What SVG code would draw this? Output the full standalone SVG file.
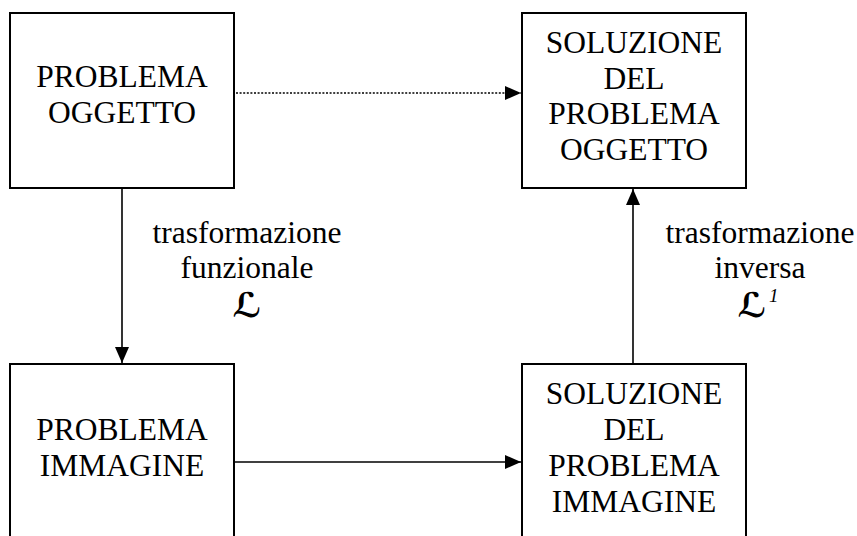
<svg xmlns="http://www.w3.org/2000/svg" width="857" height="536" viewBox="0 0 857 536">
<style>
.box{fill:#fff;stroke:#000;stroke-width:2}
.t{font-family:"Liberation Serif","Times New Roman",serif;font-size:31.5px;fill:#000;text-anchor:middle}
.c{stroke:#000;stroke-width:1.6;fill:none}
.d{stroke:#000;stroke-width:1.6;fill:none;stroke-dasharray:2 1.6}
.s{font-family:"DejaVu Serif","DejaVu Sans",serif;font-style:italic;font-weight:bold;font-size:34px;fill:#000;text-anchor:middle}
.sup{font-family:"Liberation Serif",serif;font-style:italic;font-size:19px;fill:#000}
</style>
<defs>
<marker id="ah" markerUnits="userSpaceOnUse" markerWidth="17" markerHeight="14" refX="16" refY="7" orient="auto">
<path d="M0,0 L16,7 L0,14 Z" fill="#000"/>
</marker>
</defs>
<g id="connectors">
<line class="c" x1="122" y1="189" x2="122" y2="363" marker-end="url(#ah)"/>
<line class="d" x1="236" y1="93" x2="521" y2="93" marker-end="url(#ah)"/>
<line class="c" x1="234" y1="462" x2="521" y2="462" marker-end="url(#ah)"/>
<line class="c" x1="633" y1="363" x2="633" y2="189" marker-end="url(#ah)"/>
</g>
<g id="problema-oggetto">
<rect class="box" x="10" y="13" width="224" height="175"/>
<text class="t" x="122" y="87">PROBLEMA</text>
<text class="t" x="122" y="123">OGGETTO</text>
</g>
<g id="soluzione-oggetto">
<rect class="box" x="522" y="13" width="224" height="175"/>
<text class="t" x="634" y="53">SOLUZIONE</text>
<text class="t" x="634" y="89">DEL</text>
<text class="t" x="634" y="124">PROBLEMA</text>
<text class="t" x="634" y="160">OGGETTO</text>
</g>
<g id="problema-immagine">
<rect class="box" x="10" y="364" width="224" height="185"/>
<text class="t" x="122" y="440">PROBLEMA</text>
<text class="t" x="122" y="476">IMMAGINE</text>
</g>
<g id="soluzione-immagine">
<rect class="box" x="522" y="364" width="224" height="185"/>
<text class="t" x="634" y="404">SOLUZIONE</text>
<text class="t" x="634" y="440">DEL</text>
<text class="t" x="634" y="476">PROBLEMA</text>
<text class="t" x="634" y="512">IMMAGINE</text>
</g>
<g id="label-funzionale">
<text class="t" x="247" y="243">trasformazione</text>
<text class="t" x="247" y="278">funzionale</text>
<text class="s" x="247" y="317">ℒ</text>
</g>
<g id="label-inversa">
<text class="t" x="760" y="243">trasformazione</text>
<text class="t" x="760" y="278">inversa</text>
<text class="s" x="752" y="317">ℒ</text>
<text class="sup" x="769" y="302">1</text>
</g>
</svg>
